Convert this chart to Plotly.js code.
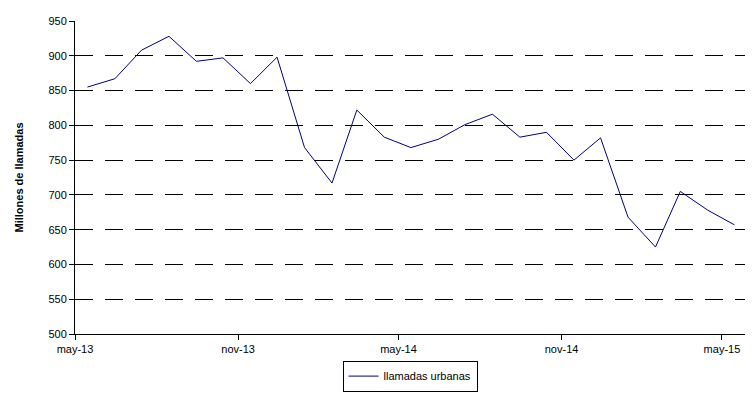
<!DOCTYPE html>
<html><head><meta charset="utf-8">
<script src="https://cdn.plot.ly/plotly-3.0.1.min.js"></script>
<style>body{margin:0}#chart{width:754px;height:408px}</style>
</head><body><div id="chart"></div>
<script>
const months = ['2013-05-15','2013-06-15','2013-07-15','2013-08-15','2013-09-15','2013-10-15','2013-11-15','2013-12-15',
  '2014-01-15','2014-02-15','2014-03-15','2014-04-15','2014-05-15','2014-06-15','2014-07-15','2014-08-15','2014-09-15',
  '2014-10-15','2014-11-15','2014-12-15','2015-01-15','2015-02-15','2015-03-15','2015-04-15','2015-05-15'];
const llamadas = [855, 867, 908, 928, 892, 897, 860, 898, 768, 717, 822, 783, 768, 780, 801, 816, 783, 790, 750, 782, 668, 625, 705, 678, 657];
const tickVals = ['2013-05-01','2013-11-01','2014-05-01','2014-11-01','2015-05-01'];
const tickText = ['may-13','nov-13','may-14','nov-14','may-15'];

Plotly.newPlot('chart', [{
  x: months, y: llamadas, type: 'scatter', mode: 'lines', name: 'llamadas urbanas',
  line: {color: '#000080', width: 1}
}], {
  width: 754, height: 408,
  margin: {l: 75, r: 9, t: 21, b: 74, autoexpand: false},
  paper_bgcolor: 'white', plot_bgcolor: 'white',
  font: {family: 'Liberation Sans, Arial', size: 11, color: '#000'},
  showlegend: true,
  legend: {orientation: 'h', x: 0.5, xanchor: 'center', y: -0.085, yanchor: 'top',
    bordercolor: '#000', borderwidth: 1, font: {size: 11}},
  xaxis: {type: 'date', range: ['2013-05-01', '2015-05-27'], tickvals: tickVals, ticktext: tickText,
    showgrid: false, showline: true, linecolor: '#000', linewidth: 1, ticks: 'outside', ticklen: 5, tickcolor: '#000', zeroline: false},
  yaxis: {range: [500, 950], dtick: 50, showgrid: true, gridcolor: '#000', griddash: '18px,12px', gridwidth: 1,
    showline: true, linecolor: '#000', ticks: 'outside', ticklen: 5, tickcolor: '#000', zeroline: false,
    title: {text: '<b>Millones de llamadas</b>', font: {size: 11}, standoff: 22}}
}, {displayModeBar: false});
</script></body></html>
